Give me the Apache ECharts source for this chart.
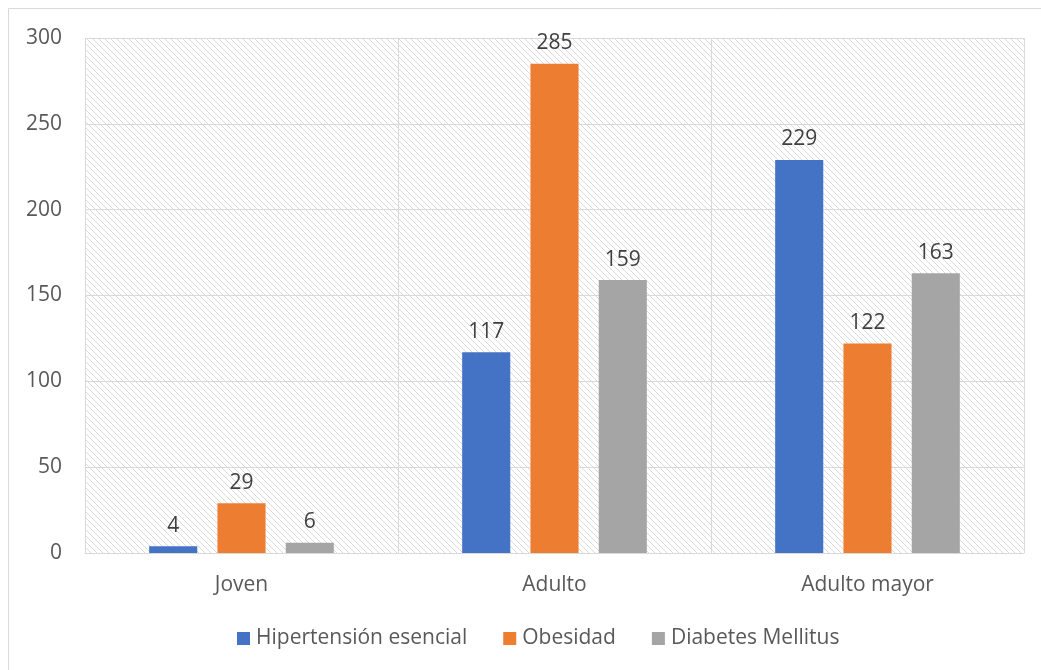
<!DOCTYPE html>
<html>
<head>
<meta charset="utf-8">
<script src="https://cdn.jsdelivr.net/npm/echarts@6/dist/echarts.min.js"></script>
<style>
  html, body { margin: 0; padding: 0; background: #ffffff; }
  #chart { width: 1041px; height: 670px; }
</style>
</head>
<body>
<div id="chart"></div>
<script>
const categories = ['Joven', 'Adulto', 'Adulto mayor'];
const seriesNames = ['Hipertensión esencial', 'Obesidad', 'Diabetes Mellitus'];
const hipertension = [4, 117, 229];
const obesidad = [29, 285, 122];
const diabetes = [6, 159, 163];
const yTicks = [0, 50, 100, 150, 200, 250, 300];

const colors = ['#4472C4', '#ED7D31', '#A5A5A5'];
const FONT = '"Open Sans", "Noto Sans", sans-serif';
const FS = 21;

// Diagonal hatch tile for the plot background
function hatchTile() {
  const s = 6;
  const c = document.createElement('canvas');
  c.width = s; c.height = s;
  const ctx = c.getContext('2d');
  ctx.fillStyle = '#ffffff';
  ctx.fillRect(0, 0, s, s);
  ctx.strokeStyle = '#dadada';
  ctx.lineWidth = 1;
  ctx.beginPath();
  ctx.moveTo(-1, -1); ctx.lineTo(s + 1, s + 1);
  ctx.moveTo(-1, s - 1); ctx.lineTo(1, s + 1);
  ctx.moveTo(s - 1, -1); ctx.lineTo(s + 1, 1);
  ctx.stroke();
  return c;
}

const chart = echarts.init(document.getElementById('chart'), null, { renderer: 'canvas' });

function barSeries(name, data, color) {
  return {
    name: name,
    type: 'bar',
    data: data,
    itemStyle: { color: color },
    barGap: '42%',
    barCategoryGap: '41%',
    label: {
      show: true,
      position: 'top',
      distance: 10,
      color: '#404040',
      fontSize: FS,
      fontFamily: FONT
    }
  };
}

chart.setOption({
  animation: false,
  backgroundColor: '#ffffff',
  graphic: [{
    type: 'rect',
    shape: { x: 8.5, y: 8.5, width: 1100, height: 700 },
    style: { fill: 'none', stroke: '#d9d9d9', lineWidth: 1 },
    z: -1
  }],
  grid: {
    left: 85, right: 17, top: 38, bottom: 117,
    show: true,
    borderWidth: 0,
    backgroundColor: { image: hatchTile(), repeat: 'repeat' }
  },
  legend: {
    bottom: 16,
    left: 232,
    itemWidth: 13,
    itemHeight: 13,
    itemGap: 36,
    icon: 'rect',
    textStyle: { color: '#595959', fontSize: FS, fontFamily: FONT, padding: [0, 0, 0, 1] },
    data: seriesNames
  },
  xAxis: {
    type: 'category',
    data: categories,
    axisLine: { show: true, lineStyle: { color: '#d9d9d9', width: 1 } },
    axisTick: { show: false },
    splitLine: { show: true, interval: 0, lineStyle: { color: '#d9d9d9', width: 1 } },
    axisLabel: { color: '#595959', fontSize: FS, fontFamily: FONT, margin: 22 }
  },
  yAxis: {
    type: 'value',
    min: yTicks[0],
    max: yTicks[yTicks.length - 1],
    interval: 50,
    axisLine: { show: false },
    axisTick: { show: false },
    splitLine: { lineStyle: { color: '#d9d9d9', width: 1 } },
    axisLabel: { color: '#595959', fontSize: FS, fontFamily: FONT, margin: 23 }
  },
  series: [
    barSeries(seriesNames[0], hipertension, colors[0]),
    barSeries(seriesNames[1], obesidad, colors[1]),
    barSeries(seriesNames[2], diabetes, colors[2])
  ]
});
</script>
</body>
</html>
